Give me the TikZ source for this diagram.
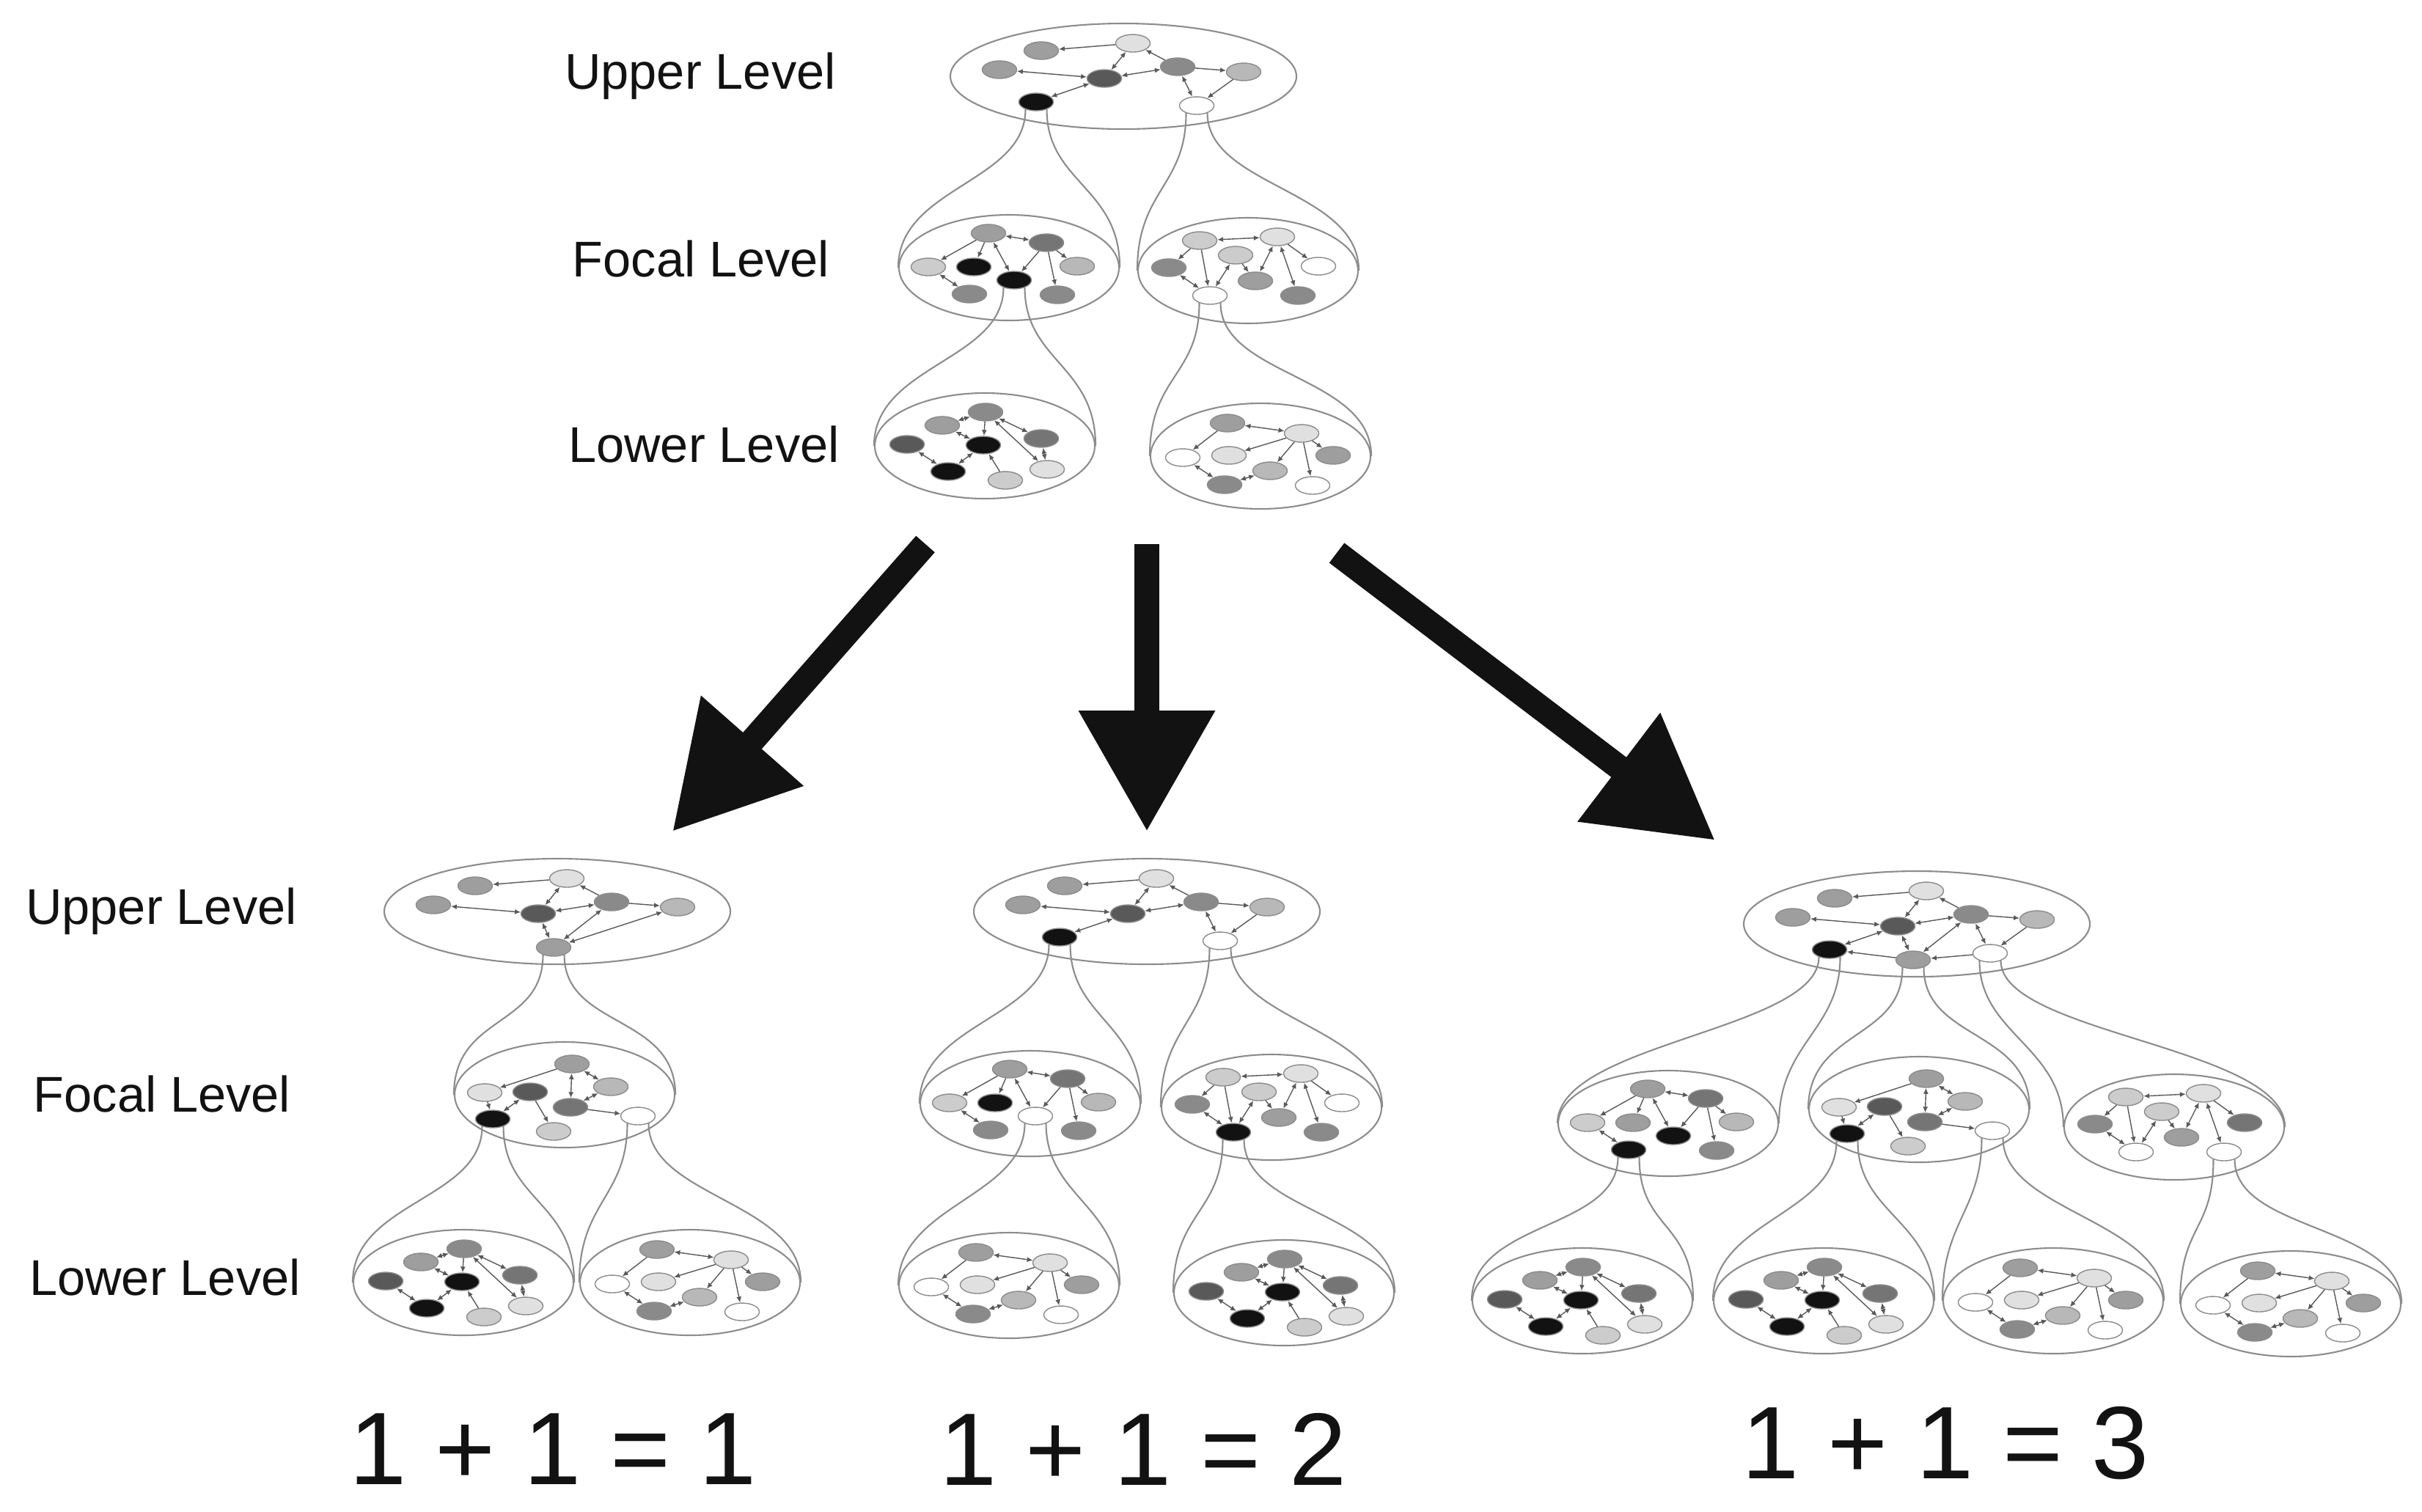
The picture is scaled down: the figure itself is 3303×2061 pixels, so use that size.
\documentclass[tikz,border=0pt]{standalone}
\usepackage{fontspec}
\setmainfont{Liberation Sans}
\usetikzlibrary{shapes.geometric,arrows.meta}

\definecolor{pale}{gray}{0.88}
\definecolor{soft}{gray}{0.80}
\definecolor{silver}{gray}{0.72}
\definecolor{mid}{gray}{0.62}
\definecolor{dim}{gray}{0.54}
\definecolor{slate}{gray}{0.46}
\definecolor{dark}{gray}{0.35}
\definecolor{ink}{gray}{0.07}
\definecolor{rim}{gray}{0.55}
\definecolor{wire}{gray}{0.35}

\tikzset{
  tier/.style={ellipse, draw=rim, line width=0.6pt, inner sep=0pt},
  uppertier/.style={tier, minimum width=47.2mm, minimum height=14.4mm},
  lowertier/.style={tier, minimum width=30mm, minimum height=14.4mm},
  pip/.style={ellipse, draw=rim, line width=0.4pt, inner sep=0pt, minimum width=4.7mm, minimum height=2.4mm},
  tie/.style={draw=wire, line width=0.4pt, {Latex[length=0.8mm,width=0.7mm]}-{Latex[length=0.8mm,width=0.7mm]}},
  feed/.style={draw=wire, line width=0.4pt, -{Latex[length=0.8mm,width=0.7mm]}},
  funnel/.style={draw=rim, line width=0.6pt},
  shiftarrow/.style={draw=ink, line width=3.4mm, -{Triangle[length=16.5mm,width=17.7mm]}},
  levelname/.style={font=\fontsize{19.5}{23}\selectfont, text=ink},
  total/.style={font=\fontsize{40}{48}\selectfont, text=ink}
}

% #1 name, #2 #3 centre, #4: 0 black+white, 1 grey only, 2 all three
\newcommand\uppernet[4]{%
\begin{scope}[shift={(#2,#3)}]
  \node[uppertier] (#1) at (0,0) {};
  \node[pip, fill=mid]    (#1-n1) at (-112,-35) {};
  \node[pip, fill=pale]   (#1-n2) at (13,-45) {};
  \node[pip, fill=mid]    (#1-n3) at (-169,-9) {};
  \node[pip, fill=dark]   (#1-n4) at (-26,3) {};
  \node[pip, fill=dim]    (#1-n5) at (74,-13) {};
  \node[pip, fill=silver] (#1-n6) at (164,-6) {};
  \draw[feed] (#1-n2) -- (#1-n1);
  \draw[tie] (#1-n2) -- (#1-n4);
  \draw[feed] (#1-n5) -- (#1-n2);
  \draw[tie] (#1-n4) -- (#1-n3);
  \draw[tie] (#1-n4) -- (#1-n5);
  \draw[feed] (#1-n5) -- (#1-n6);
  \ifnum#4=1\relax\else
    \node[pip, fill=ink]   (#1-n7) at (-119,35) {};
    \node[pip, fill=white] (#1-n8) at (100,40) {};
    \draw[tie] (#1-n7) -- (#1-n4);
    \draw[tie] (#1-n5) -- (#1-n8);
    \draw[feed] (#1-n6) -- (#1-n8);
  \fi
  \ifnum#4>0\relax
    \node[pip, fill=mid] (#1-n9) at (-5,49) {};
    \draw[tie] (#1-n4) -- (#1-n9);
    \draw[tie] (#1-n5) -- (#1-n9);
  \fi
  \ifnum#4=1\relax \draw[tie] (#1-n6) -- (#1-n9); \fi
  \ifnum#4=2\relax \draw[feed] (#1-n9) -- (#1-n7); \draw[feed] (#1-n8) -- (#1-n9); \fi
\end{scope}}

% #4 #5 #6: colours of a4, a5, a7
\newcommand\focalA[6]{%
\begin{scope}[shift={(#2,#3)}]
  \node[lowertier] (#1) at (0,0) {};
  \node[pip, fill=mid]    (#1-a1) at (-28,-47) {};
  \node[pip, fill=slate]  (#1-a2) at (51,-34) {};
  \node[pip, fill=soft]   (#1-a3) at (-110,-1) {};
  \node[pip, fill=#4]     (#1-a4) at (-48,-1) {};
  \node[pip, fill=#5]     (#1-a5) at (7,17) {};
  \node[pip, fill=silver] (#1-a6) at (93,-2) {};
  \node[pip, fill=#6]     (#1-a7) at (-54,36) {};
  \node[pip, fill=dim]    (#1-a8) at (66,37) {};
  \draw[tie] (#1-a1) -- (#1-a2);
  \draw[feed] (#1-a1) -- (#1-a3);
  \draw[feed] (#1-a1) -- (#1-a4);
  \draw[tie] (#1-a1) -- (#1-a5);
  \draw[feed] (#1-a2) -- (#1-a5);
  \draw[feed] (#1-a2) -- (#1-a6);
  \draw[feed] (#1-a2) -- (#1-a8);
  \draw[tie] (#1-a3) -- (#1-a7);
\end{scope}}

\newcommand\focalB[6]{%
\begin{scope}[shift={(#2,#3)}]
  \node[lowertier] (#1) at (0,0) {};
  \node[pip, fill=soft] (#1-b1) at (-66,-41) {};
  \node[pip, fill=pale] (#1-b2) at (40,-46) {};
  \node[pip, fill=soft] (#1-b3) at (-17,-21) {};
  \node[pip, fill=dim]  (#1-b4) at (-108,-4) {};
  \node[pip, fill=#4]   (#1-b5) at (96,-6) {};
  \node[pip, fill=mid]  (#1-b6) at (10,14) {};
  \node[pip, fill=#5]   (#1-b7) at (-52,34) {};
  \node[pip, fill=#6]   (#1-b8) at (68,34) {};
  \draw[tie] (#1-b1) -- (#1-b2);
  \draw[feed] (#1-b1) -- (#1-b4);
  \draw[feed] (#1-b1) -- (#1-b7);
  \draw[tie] (#1-b3) -- (#1-b7);
  \draw[feed] (#1-b3) -- (#1-b6);
  \draw[tie] (#1-b2) -- (#1-b6);
  \draw[tie] (#1-b2) -- (#1-b8);
  \draw[feed] (#1-b2) -- (#1-b5);
  \draw[tie] (#1-b4) -- (#1-b7);
\end{scope}}

\newcommand\focalC[3]{%
\begin{scope}[shift={(#2,#3)}]
  \node[lowertier] (#1) at (0,0) {};
  \node[pip, fill=mid]    (#1-c1) at (10,-42) {};
  \node[pip, fill=pale]   (#1-c2) at (-109,-3) {};
  \node[pip, fill=dark]   (#1-c3) at (-47,-4) {};
  \node[pip, fill=silver] (#1-c4) at (63,-11) {};
  \node[pip, fill=slate]  (#1-c5) at (8,17) {};
  \node[pip, fill=ink]    (#1-c6) at (-98,33) {};
  \node[pip, fill=soft]   (#1-c7) at (-15,50) {};
  \node[pip, fill=white]  (#1-c8) at (100,29) {};
  \draw[feed] (#1-c1) -- (#1-c2);
  \draw[tie] (#1-c1) -- (#1-c4);
  \draw[tie] (#1-c1) -- (#1-c5);
  \draw[tie] (#1-c4) -- (#1-c5);
  \draw[feed] (#1-c2) -- (#1-c6);
  \draw[tie] (#1-c3) -- (#1-c6);
  \draw[feed] (#1-c3) -- (#1-c7);
  \draw[feed] (#1-c5) -- (#1-c8);
\end{scope}}

\newcommand\lowerA[3]{%
\begin{scope}[shift={(#2,#3)}]
  \node[lowertier] (#1) at (0,0) {};
  \node[pip, fill=dim]   (#1-d1) at (1,-46) {};
  \node[pip, fill=mid]   (#1-d2) at (-58,-28) {};
  \node[pip, fill=dark]  (#1-d3) at (-106,-2) {};
  \node[pip, fill=ink]   (#1-d4) at (-2,-1) {};
  \node[pip, fill=slate] (#1-d5) at (77,-10) {};
  \node[pip, fill=ink]   (#1-d6) at (-50,35) {};
  \node[pip, fill=soft]  (#1-d7) at (28,47) {};
  \node[pip, fill=pale]  (#1-d8) at (85,32) {};
  \draw[tie] (#1-d1) -- (#1-d2);
  \draw[feed] (#1-d1) -- (#1-d4);
  \draw[tie] (#1-d1) -- (#1-d5);
  \draw[tie] (#1-d1) -- (#1-d8);
  \draw[tie] (#1-d2) -- (#1-d4);
  \draw[tie] (#1-d3) -- (#1-d6);
  \draw[tie] (#1-d4) -- (#1-d6);
  \draw[feed] (#1-d7) -- (#1-d4);
  \draw[tie] (#1-d5) -- (#1-d8);
\end{scope}}

\newcommand\lowerB[3]{%
\begin{scope}[shift={(#2,#3)}]
  \node[lowertier] (#1) at (0,0) {};
  \node[pip, fill=mid]    (#1-e1) at (-45,-45) {};
  \node[pip, fill=pale]   (#1-e2) at (56,-31) {};
  \node[pip, fill=white]  (#1-e3) at (-106,2) {};
  \node[pip, fill=pale]   (#1-e4) at (-43,-1) {};
  \node[pip, fill=mid]    (#1-e5) at (99,-1) {};
  \node[pip, fill=silver] (#1-e6) at (13,20) {};
  \node[pip, fill=dim]    (#1-e7) at (-49,39) {};
  \node[pip, fill=white]  (#1-e8) at (71,40) {};
  \draw[tie] (#1-e1) -- (#1-e2);
  \draw[feed] (#1-e1) -- (#1-e3);
  \draw[feed] (#1-e2) -- (#1-e4);
  \draw[feed] (#1-e2) -- (#1-e6);
  \draw[feed] (#1-e2) -- (#1-e5);
  \draw[feed] (#1-e2) -- (#1-e8);
  \draw[tie] (#1-e3) -- (#1-e7);
  \draw[tie] (#1-e7) -- (#1-e6);
\end{scope}}

\newcommand\funnel[2]{%
  \draw[funnel] (#1.215) .. controls +(0,100) and +(0,-110) .. (#2.west);
  \draw[funnel] (#1.-35) .. controls +(0,100) and +(0,-110) .. (#2.east);}

\begin{document}
\begin{tikzpicture}[x=0.1mm, y=-0.1mm]
\useasboundingbox (0,0) rectangle (3303,2061);

\node[levelname] (upper0) at (955,104) {Upper Level};
\node[levelname] (focal0) at (956,353) {Focal Level};
\node[levelname] (lower0) at (960,606) {Lower Level};
\node[levelname] (upper1) at (220,1243) {Upper Level};
\node[levelname] (focal1) at (221,1492) {Focal Level};
\node[levelname] (lower1) at (225,1742) {Lower Level};

\uppernet{U0}{1532}{104}{0}
\focalA{FA0}{1376}{365}{ink}{ink}{dim}
\focalB{FB0}{1702}{369}{white}{white}{dim}
\lowerA{LA0}{1343}{608}
\lowerB{LB0}{1719}{622}
\funnel{U0-n7}{FA0}
\funnel{U0-n8}{FB0}
\funnel{FA0-a5}{LA0}
\funnel{FB0-b7}{LB0}

\coordinate (tailL) at (1262,742);
\coordinate (headL) at (917,1134);
\coordinate (tailM) at (1564,742);
\coordinate (headM) at (1564,1134);
\coordinate (tailR) at (1823,754);
\coordinate (headR) at (2339,1146);
\draw[shiftarrow] (tailL) -- (headL);
\draw[shiftarrow] (tailM) -- (headM);
\draw[shiftarrow] (tailR) -- (headR);

\uppernet{U1}{760}{1243}{1}
\focalC{C1}{770}{1493}
\lowerA{LA1}{632}{1749}
\lowerB{LB1}{941}{1749}
\funnel{U1-n9}{C1}
\funnel{C1-c6}{LA1}
\funnel{C1-c8}{LB1}

\uppernet{U2}{1564}{1243}{0}
\focalA{FA2}{1405}{1505}{ink}{white}{dim}
\focalB{FB2}{1734}{1510}{white}{ink}{dim}
\lowerB{LB2}{1376}{1753}
\lowerA{LA2}{1751}{1763}
\funnel{U2-n7}{FA2}
\funnel{U2-n8}{FB2}
\funnel{FA2-a5}{LB2}
\funnel{FB2-b7}{LA2}

\uppernet{U3}{2614}{1260}{2}
\focalA{FA3}{2275}{1532}{mid}{ink}{ink}
\focalC{C3}{2617}{1513}
\focalB{FB3}{2965}{1537}{slate}{white}{white}
\lowerA{LA3}{2158}{1774}
\lowerA{LA3b}{2487}{1774}
\lowerB{LB3}{2800}{1774}
\lowerB{LB3b}{3124}{1778}
\funnel{U3-n7}{FA3}
\funnel{U3-n9}{C3}
\funnel{U3-n8}{FB3}
\funnel{FA3-a7}{LA3}
\funnel{C3-c6}{LA3b}
\funnel{C3-c8}{LB3}
\funnel{FB3-b8}{LB3b}

\node[total] (sum1) at (754,1976) {1 + 1 = 1};
\node[total] (sum2) at (1559,1976) {1 + 1 = 2};
\node[total] (sum3) at (2653,1968) {1 + 1 = 3};
\end{tikzpicture}
\end{document}
